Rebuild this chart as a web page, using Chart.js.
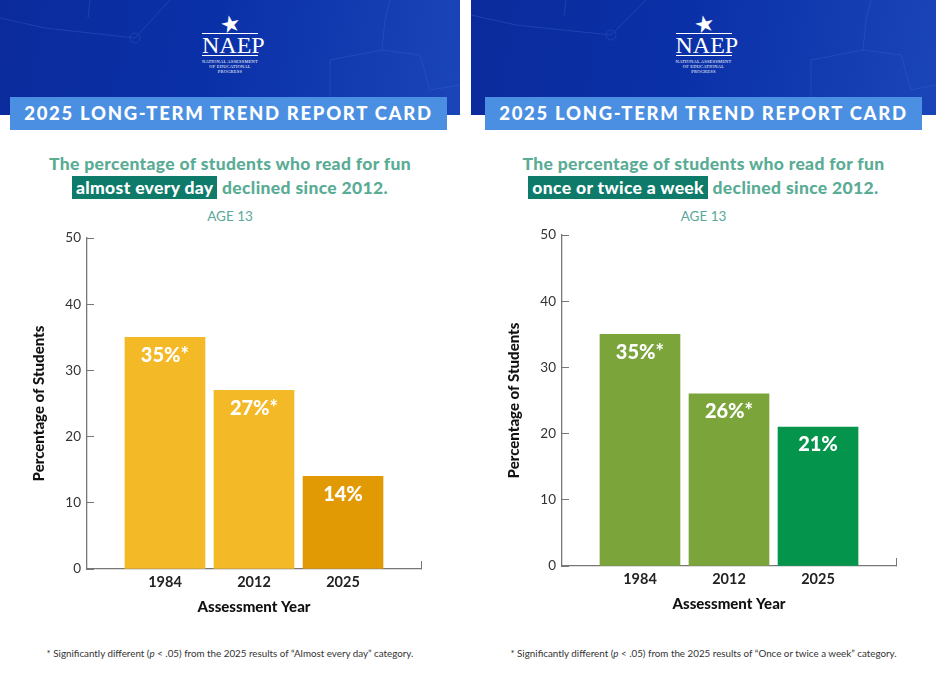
<!DOCTYPE html>
<html>
<head>
<meta charset="utf-8">
<script src="https://cdn.jsdelivr.net/npm/chart.js@4.4.1/dist/chart.umd.min.js"></script>
<style>
  body { margin:0; width:936px; height:678px; background:#fff; position:relative; overflow:hidden; font-family:Lato, "Open Sans", sans-serif; }
  .panel { position:absolute; top:0; height:678px; }
  .head { position:absolute; left:0; top:0; right:0; height:115px;
          background:linear-gradient(100deg,#0b2b9b 0%,#0a30a8 45%,#1a45b8 100%); overflow:hidden; }
  .head svg { position:absolute; left:0; top:0; }
  .logo { position:absolute; top:13px; left:50%; transform:translateX(-50%); width:64px; text-align:center; color:#fff; }
  .logo .star { font-size:23px; line-height:20px; transform:rotate(-12deg); }
  .logo .naep { font-family:"Liberation Serif", "DejaVu Serif", serif; font-size:24px; line-height:20px;
                border-top:1px solid #fff; border-bottom:1px solid #fff; padding:1px 0 0; margin:0 4px; }
  .logo .small { font-family:"Liberation Serif", serif; font-size:4.5px; line-height:5px; margin-top:3px; letter-spacing:0.2px; }
  .banner { position:absolute; top:97px; height:33px; width:437px; background:#4b8fe2; color:#fff;
            font-weight:900; font-size:18.5px; letter-spacing:1.7px; text-align:center; line-height:33px; }
  .title { position:absolute; left:0; right:0; top:152px; text-align:center; color:#5aac95; font-weight:900;
           font-size:17.5px; line-height:23.5px; letter-spacing:0.35px; }
  .title .hl { background:#0d7a6a; color:#fff; padding:1px 4px; }
  .age { position:absolute; left:0; right:0; top:208px; text-align:center; color:#5aa89a; font-size:13.5px; }
  .note { position:absolute; left:0; right:0; top:647px; text-align:center; color:#333; font-size:9.8px; }
  canvas { position:absolute; }
</style>
</head>
<body>

<div class="panel" style="left:0;width:460px;">
  <div class="head">
    <svg width="460" height="115"><g stroke="#3b5fc8" stroke-width="1" fill="none" opacity="0.4">
      <path d="M0 18 L45 28 L135 38 L170 0"/><circle cx="135" cy="38" r="5"/><path d="M90 0 L88 18"/>
      <path d="M330 115 L330 60 L382 50 L385 20 L390 0"/><path d="M382 50 L420 55 L430 90 L460 85"/>
    </g></svg>
    <div class="logo"><div class="star">&#9733;</div><div class="naep">NAEP</div>
      <div class="small">NATIONAL ASSESSMENT<br>OF EDUCATIONAL<br>PROGRESS</div></div>
  </div>
  <div class="banner" style="left:10px;">2025 LONG-TERM TREND REPORT CARD</div>
  <div class="title">The percentage of students who read for fun<br><span class="hl">almost every day</span> declined since 2012.</div>
  <div class="age">AGE 13</div>
  <canvas id="dailyChart" style="left:19px;top:226px;" width="420" height="400"></canvas>
  <div class="note">* Significantly different (<i>p</i> &lt; .05) from the 2025 results of “Almost every day” category.</div>
</div>

<div class="panel" style="left:471px;width:465px;">
  <div class="head">
    <svg width="465" height="115"><g stroke="#3b5fc8" stroke-width="1" fill="none" opacity="0.4">
      <path d="M0 15 L45 25 L140 35 L175 0"/><circle cx="140" cy="35" r="5"/><path d="M95 0 L93 16"/>
      <path d="M340 115 L340 60 L392 50 L395 20 L400 0"/><path d="M392 50 L430 55 L440 90 L465 85"/>
    </g></svg>
    <div class="logo"><div class="star">&#9733;</div><div class="naep">NAEP</div>
      <div class="small">NATIONAL ASSESSMENT<br>OF EDUCATIONAL<br>PROGRESS</div></div>
  </div>
  <div class="banner" style="left:14px;">2025 LONG-TERM TREND REPORT CARD</div>
  <div class="title">The percentage of students who read for fun<br><span class="hl">once or twice a week</span> declined since 2012.</div>
  <div class="age">AGE 13</div>
  <canvas id="weeklyChart" style="left:23px;top:223px;" width="420" height="400"></canvas>
  <div class="note">* Significantly different (<i>p</i> &lt; .05) from the 2025 results of “Once or twice a week” category.</div>
</div>

<script>
const years = ['1984', '2012', '2025'];
const dailyValues = [35, 27, 14];
const dailySignificant = [true, true, false];
const weeklyValues = [35, 26, 21];
const weeklySignificant = [true, true, false];
const yTicks = [0, 10, 20, 30, 40, 50];

const dailyColors = ['#f3b927', '#f3b927', '#e29a04'];
const weeklyColors = ['#7ba53a', '#7ba53a', '#05944b'];

const X_MIN = 0.124, X_MAX = 3.876;

// white value labels drawn inside the top of each bar
const barLabels = {
  id: 'barLabels',
  afterDatasetsDraw(chart) {
    const ctx = chart.ctx;
    const ds = chart.data.datasets[0];
    chart.getDatasetMeta(0).data.forEach((bar, i) => {
      const txt = ds.data[i].y + '%' + (ds.significant[i] ? '*' : '');
      ctx.save();
      ctx.fillStyle = '#fff';
      ctx.font = '900 20px Lato';
      ctx.textAlign = 'center';
      ctx.textBaseline = 'middle';
      ctx.fillText(txt, bar.x, bar.y + 18);
      ctx.restore();
    });
  }
};

function makeChart(id, values, significant, colors) {
  return new Chart(document.getElementById(id), {
    type: 'bar',
    data: {
      datasets: [{
        data: values.map((v, i) => ({ x: i + 1, y: v })),
        significant: significant,
        backgroundColor: colors,
        borderWidth: 0,
        barThickness: 80
      }]
    },
    options: {
      responsive: false,
      animation: false,
      layout: { padding: { top: 12, right: 18, left: 0, bottom: 0 } },
      plugins: { legend: { display: false }, tooltip: { enabled: false } },
      scales: {
        x: {
          type: 'linear',
          min: X_MIN,
          max: X_MAX,
          offset: false,
          afterBuildTicks: s => { s.ticks = [1, 2, 3, X_MAX].map(v => ({ value: v })); },
          afterFit: s => { s.height = 57; },
          ticks: {
            autoSkip: false,
            padding: 13,
            color: '#222',
            font: { family: 'Lato', size: 14.5, weight: 'bold' },
            callback: (v, i) => years[i] || ''
          },
          grid: {
            offset: false,
            drawOnChartArea: false,
            tickLength: -8,
            color: c => (c.tick && c.tick.value === X_MAX) ? '#777' : 'rgba(0,0,0,0)'
          },
          border: { color: '#777', width: 1.3 },
          title: {
            display: true, text: 'Assessment Year', color: '#111',
            font: { family: 'Lato', size: 15, weight: 900 },
            padding: { top: 0, bottom: 10 }
          }
        },
        y: {
          min: 0,
          max: 50,
          afterBuildTicks: s => { s.ticks = yTicks.map(v => ({ value: v })); },
          afterFit: s => { s.width = 68; s.paddingTop = 0; s.paddingBottom = 0; },
          ticks: { padding: 13, color: '#333', font: { family: 'Lato', size: 13.5 } },
          grid: { drawOnChartArea: false, tickLength: -7, color: '#777' },
          border: { color: '#777', width: 1.3 },
          title: {
            display: true, text: 'Percentage of Students', color: '#111',
            font: { family: 'Lato', size: 15, weight: 900 },
            padding: { top: 11, bottom: 0 }
          }
        }
      }
    },
    plugins: [barLabels]
  });
}

makeChart('dailyChart', dailyValues, dailySignificant, dailyColors);
makeChart('weeklyChart', weeklyValues, weeklySignificant, weeklyColors);
</script>
</body>
</html>
